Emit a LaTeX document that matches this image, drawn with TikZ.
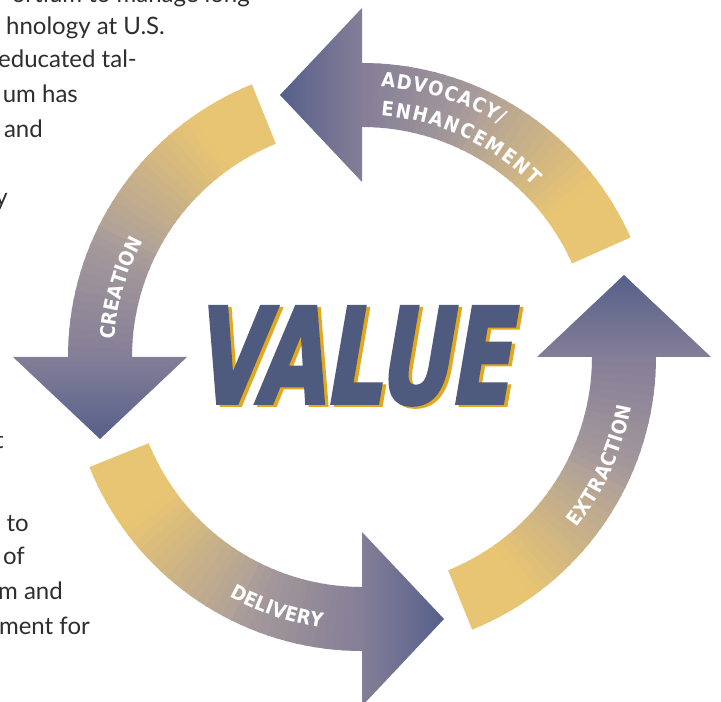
\documentclass[tikz,border=0pt]{standalone}
\usepackage{fontspec}
\usepackage{tikz}
\usetikzlibrary{calc}
\usetikzlibrary{decorations.text}

\newfontfamily\bodyfont{Lato}
\newfontfamily\labelfont{DejaVu Sans Condensed}
\newfontfamily\valuefont[FakeBold=3]{DejaVu Sans Condensed}

\definecolor{arrowgold}{HTML}{E8C573}
\definecolor{arrowmauve}{HTML}{AB9E9B}
\definecolor{arrowviolet}{HTML}{847E97}
\definecolor{headdark}{HTML}{56608A}
\definecolor{valueblue}{HTML}{4E5A7E}
\definecolor{valuegold}{HTML}{E2A91E}
\definecolor{bodygray}{HTML}{2E2E2E}

\newcommand\arrowlabel{\labelfont\bfseries\fontsize{20}{20}\selectfont}
\newcommand\valueword{\resizebox{316pt}{96pt}{\valuefont\bfseries VALUE}}

\tikzset{
  bodytext/.style={font=\bodyfont\fontsize{24}{24}\selectfont, text=bodygray, anchor=base east, inner sep=0pt},
  arrowtext/.style={decorate, decoration={text along path, text align=fit to path, text color=white}},
  valuetext/.style={anchor=base west, inner sep=0pt, xslant=0.17}
}

\begin{document}
\begin{tikzpicture}[x=1pt, y=1pt]
        \useasboundingbox (0,0) rectangle (721,702);
        \fill[white] (0,0) rectangle (721,702);
        \coordinate (O) at (362,345);

        % four curved arrows, gold tail fading into the slate head
        \begin{scope}[shift={(O)}]
          \foreach \ta/\ha in {24/90, -68/0, 112/180, 202/270}{
            \foreach \k in {0,...,35}{
              \pgfmathsetmacro\a{\ta+(\ha-\ta)*\k/36}
              \pgfmathsetmacro\b{min(\ha,\ta+(\ha-\ta)*(\k+1)/36+0.4)}
              \pgfmathsetmacro\f{(\k+0.5)/36}
              \pgfmathtruncatemacro\pa{100*(1-min(1,max(0,(\f-0.2)/0.45)))}
              \pgfmathtruncatemacro\pb{100*(1-min(1,max(0,(\f-0.6)/0.4)))}
              \fill[fill=arrowgold!\pa!arrowmauve!\pb!arrowviolet]
                (\a:230pt) arc[start angle=\a, end angle=\b, radius=230pt]
                -- (\b:294pt) arc[start angle=\b, end angle=\a, radius=294pt] -- cycle;
            }
            \shade[top color=headdark, bottom color=arrowviolet, shading angle=\ha]
              (\ha:175pt) -- (\ha:349pt) -- ($(\ha:262pt)+({\ha+90}:82pt)$) -- cycle;
          }

          % labels along the arrows
          \path[arrowtext, decoration={text={|\arrowlabel|ADVOCACY/}}]
            (86:271pt) arc[start angle=86, end angle=59, radius=271pt];
          \path[arrowtext, decoration={text={|\arrowlabel|ENHANCEMENT}}]
            (85.5:242pt) arc[start angle=85.5, end angle=45, radius=242pt];
          \path[arrowtext, decoration={text={|\arrowlabel|CREATION}}]
            (176:248pt) arc[start angle=176, end angle=152, radius=248pt];
          \path[arrowtext, decoration={text={|\arrowlabel|EXTRACTION}}]
            (-38.5:274pt) arc[start angle=-38.5, end angle=-10.5, radius=274pt];
          \path[arrowtext, decoration={text={|\arrowlabel|DELIVERY}}]
            (241:274pt) arc[start angle=241, end angle=261.5, radius=274pt];
        \end{scope}

        \node[valuetext, text=valuegold] (valueshadow) at (196.5,297) {\valueword};
        \node[valuetext, text=valueblue] (value) at (193,299) {\valueword};

        % column of body text running off the left edge
        \node[bodytext] (linea) at (250,699) {ortium to manage long};
        \node[bodytext] (lineb) at (165,667) {hnology at U.S.};
        \node[bodytext] (linec) at (137,634) {educated tal-};
        \node[bodytext] (lined) at (78,599) {um has};
        \node[bodytext] (linee) at (43,564) {and};
        \node[bodytext] (linef) at (8,496) {y};
        \node[bodytext] (lineg) at (4,253) {t};
        \node[bodytext] (lineh) at (29,170) {to};
        \node[bodytext] (linei) at (25,137) {of};
        \node[bodytext] (linej) at (63,102) {m and};
        \node[bodytext] (linek) at (90,67) {ment for};
\end{tikzpicture}
\end{document}
